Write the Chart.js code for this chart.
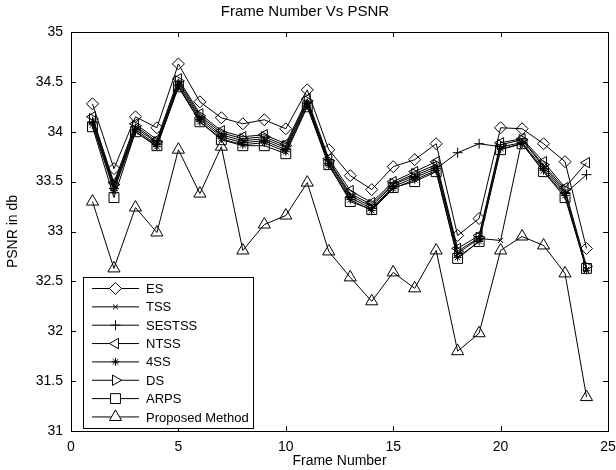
<!DOCTYPE html>
<html lang="en">
<head>
    <meta charset="UTF-8">
    <title>Frame Number Vs PSNR</title>
    <style>
        body {
            margin: 0;
            background-color: white;
        }
        #grafico {
            display: block;
        }
    </style>
</head>
<body>
    <canvas id="grafico" width="616" height="470"></canvas>

    <script src="https://cdn.jsdelivr.net/npm/chart.js"></script>
    <script>
        // Valores (frame 1..24)
        const frames = [1, 2, 3, 4, 5, 6, 7, 8, 9, 10, 11, 12, 13, 14, 15, 16, 17, 18, 19, 20, 21, 22, 23, 24];

        const es       = [34.28, 33.63, 34.15, 34.04, 34.68, 34.30, 34.14, 34.08, 34.12, 34.03, 34.42, 33.82, 33.56, 33.42, 33.65, 33.72, 33.88, 32.96, 33.13, 34.04, 34.03, 33.88, 33.70, 32.83];
        const tss      = [34.11, 33.45, 34.04, 33.89, 34.49, 34.14, 33.97, 33.91, 33.93, 33.84, 34.30, 33.70, 33.36, 33.25, 33.47, 33.56, 33.65, 32.78, 32.93, 32.91, 33.92, 33.65, 33.40, 32.62];
        const sestss   = [34.09, 33.43, 34.02, 33.87, 34.47, 34.12, 33.95, 33.89, 33.91, 33.82, 34.28, 33.68, 33.34, 33.23, 33.45, 33.54, 33.63, 33.79, 33.88, 33.85, 33.89, 33.63, 33.38, 33.57];
        const ntss     = [34.15, 33.49, 34.08, 33.92, 34.53, 34.18, 34.01, 33.95, 33.97, 33.88, 34.33, 33.73, 33.41, 33.29, 33.50, 33.60, 33.70, 32.83, 32.96, 33.89, 33.93, 33.70, 33.44, 33.69];
        const fourSS   = [34.07, 33.41, 34.00, 33.85, 34.45, 34.10, 33.93, 33.87, 33.89, 33.80, 34.26, 33.66, 33.32, 33.21, 33.43, 33.52, 33.61, 32.74, 32.90, 33.83, 33.88, 33.61, 33.36, 32.61];
        const ds       = [34.13, 33.47, 34.06, 33.90, 34.51, 34.16, 33.99, 33.93, 33.95, 33.86, 34.31, 33.71, 33.38, 33.27, 33.48, 33.58, 33.67, 32.80, 32.94, 33.87, 33.92, 33.67, 33.42, 32.65];
        const arps     = [34.05, 33.34, 34.00, 33.86, 34.45, 34.10, 33.92, 33.86, 33.86, 33.78, 34.25, 33.67, 33.30, 33.22, 33.44, 33.50, 33.60, 32.73, 32.90, 33.82, 33.88, 33.60, 33.34, 32.63];
        const proposto = [33.30, 32.63, 33.24, 32.99, 33.82, 33.38, 33.85, 32.81, 33.07, 33.16, 33.49, 32.80, 32.54, 32.30, 32.59, 32.43, 32.81, 31.80, 31.98, 32.81, 32.95, 32.86, 32.58, 31.34];

        const xTicks = [0, 5, 10, 15, 20, 25];
        const yTicks = [31, 31.5, 32, 32.5, 33, 33.5, 34, 34.5, 35];

        const fonte = '"Liberation Sans", Arial, sans-serif';

        function serie(label, valores, estilo, raio, rotacao) {
            return {
                label: label,
                data: frames.map((f, i) => ({ x: f, y: valores[i] })),
                borderColor: 'black',
                backgroundColor: 'rgba(0,0,0,0)',
                borderWidth: 1,
                pointStyle: estilo,
                pointRadius: raio,
                pointRotation: rotacao || 0,
                pointBorderColor: 'black',
                pointBackgroundColor: 'rgba(0,0,0,0)',
                pointBorderWidth: 1,
                tension: 0,
                fill: false
            };
        }

        const datasets = [
            serie('ES', es, 'rectRot', 6),
            serie('TSS', tss, 'crossRot', 3.5),
            serie('SESTSS', sestss, 'cross', 5),
            serie('NTSS', ntss, 'triangle', 6, -90),
            serie('4SS', fourSS, 'star', 4),
            serie('DS', ds, 'triangle', 6, 90),
            serie('ARPS', arps, 'rect', 7),
            serie('Proposed Method', proposto, 'triangle', 7)
        ];

        // caixa do eixo + ticks para dentro (estilo MATLAB)
        const caixaPlugin = {
            id: 'caixa',
            afterDraw(chart) {
                const { ctx, chartArea: a, scales } = chart;
                ctx.save();
                ctx.strokeStyle = 'black';
                ctx.lineWidth = 1;
                ctx.strokeRect(a.left + 0.5, a.top + 0.5, a.right - a.left, a.bottom - a.top);
                const tl = 5;
                ctx.beginPath();
                xTicks.forEach(v => {
                    const x = Math.round(scales.x.getPixelForValue(v)) + 0.5;
                    ctx.moveTo(x, a.bottom); ctx.lineTo(x, a.bottom - tl);
                    ctx.moveTo(x, a.top); ctx.lineTo(x, a.top + tl);
                });
                yTicks.forEach(v => {
                    const y = Math.round(scales.y.getPixelForValue(v)) + 0.5;
                    ctx.moveTo(a.left, y); ctx.lineTo(a.left + tl, y);
                    ctx.moveTo(a.right, y); ctx.lineTo(a.right - tl, y);
                });
                ctx.stroke();

                // legenda
                const lx = 83, ly = 277, lw = 170, lh = 151;
                ctx.fillStyle = 'white';
                ctx.fillRect(lx, ly, lw, lh);
                ctx.strokeRect(lx + 0.5, ly + 0.5, lw, lh);
                ctx.font = '13px ' + fonte;
                ctx.textBaseline = 'middle';
                chart.data.datasets.forEach((d, i) => {
                    const y = ly + 11.5 + i * 18.35;
                    ctx.beginPath();
                    ctx.moveTo(92, y); ctx.lineTo(139, y);
                    ctx.stroke();
                    ctx.fillStyle = 'white';
                    Chart.helpers.drawPoint(ctx, {
                        pointStyle: d.pointStyle,
                        radius: d.pointRadius,
                        rotation: d.pointRotation,
                        borderWidth: 1
                    }, 115.5, y);
                    ctx.fillStyle = 'black';
                    ctx.fillText(d.label, 146, y + 1);
                });
                ctx.restore();
            }
        };

        new Chart(document.getElementById('grafico'), {
            type: 'line',
            data: { datasets: datasets },
            plugins: [caixaPlugin],
            options: {
                responsive: false,
                animation: false,
                layout: { padding: { top: 0, right: 6, left: 0, bottom: 0 } },
                plugins: {
                    legend: { display: false },
                    tooltip: { enabled: false },
                    title: {
                        display: true,
                        text: 'Frame Number Vs PSNR',
                        color: 'black',
                        font: { family: fonte, size: 15, weight: 'normal' },
                        padding: { top: 3, bottom: 11 }
                    }
                },
                scales: {
                    x: {
                        type: 'linear',
                        min: 0,
                        max: 25,
                        grid: { display: false, drawTicks: false },
                        border: { display: false },
                        afterBuildTicks: s => { s.ticks = xTicks.map(v => ({ value: v })); },
                        ticks: {
                            color: 'black',
                            padding: 8,
                            maxRotation: 0,
                            font: { family: fonte, size: 14 }
                        },
                        title: {
                            display: true,
                            text: 'Frame Number',
                            color: 'black',
                            font: { family: fonte, size: 14 },
                            padding: { top: 0, bottom: 0 }
                        },
                        afterFit: s => { s.height = 39; s.paddingLeft = 0; s.paddingRight = 0; }
                    },
                    y: {
                        type: 'linear',
                        min: 31,
                        max: 35,
                        grid: { display: false, drawTicks: false },
                        border: { display: false },
                        afterBuildTicks: s => { s.ticks = yTicks.map(v => ({ value: v })); },
                        ticks: {
                            color: 'black',
                            padding: 8,
                            font: { family: fonte, size: 14 },
                            callback: v => String(v)
                        },
                        title: {
                            display: true,
                            text: 'PSNR in db',
                            color: 'black',
                            font: { family: fonte, size: 14 },
                            padding: { top: 5, bottom: 0 }
                        },
                        afterFit: s => { s.width = 71; s.paddingTop = 0; s.paddingBottom = 0; }
                    }
                }
            }
        });
    </script>
</body>
</html>
